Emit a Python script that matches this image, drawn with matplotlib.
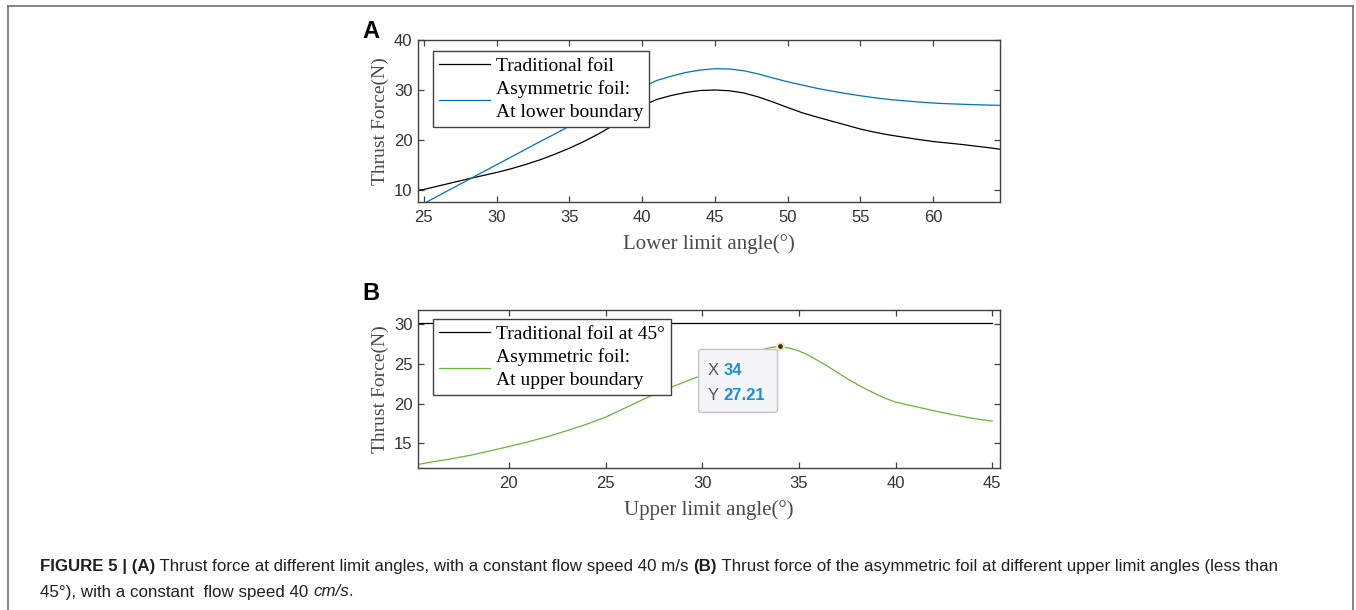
import matplotlib.pyplot as plt
import matplotlib.transforms as mtransforms
from matplotlib.patches import FancyBboxPatch
from matplotlib.lines import Line2D

# panel A: thrust vs lower limit angle
lower_angle = [24.6, 25, 26, 27, 28, 29, 30, 31, 32, 33, 34, 35, 36, 37, 38, 39, 40,
               41, 42, 43, 44, 45, 46, 47, 48, 49, 50, 51, 52, 53, 54, 55, 56,
               57, 58, 59, 60, 61, 62, 63, 64, 64.6]
thrust_traditional = [9.95, 10.1, 10.8, 11.5, 12.2, 12.85, 13.5, 14.25, 15.1, 16.05,
                      17.15, 18.35, 19.7, 21.2, 22.9, 24.9, 26.8, 28.1, 28.9, 29.5,
                      29.9, 30.0, 29.85, 29.4, 28.6, 27.6, 26.5, 25.45, 24.6, 23.8,
                      23.0, 22.2, 21.55, 21.0, 20.55, 20.1, 19.7, 19.4, 19.1, 18.75,
                      18.4, 18.15]
thrust_asym_lower = [None, 7.3, 8.85, 10.4, 11.95, 13.5, 15.05, 16.6, 18.15, 19.7,
                     21.2, 22.75, 24.3, 25.85, 27.35, 28.9, 30.5, 31.9, 32.75, 33.5,
                     34.0, 34.25, 34.2, 33.85, 33.2, 32.4, 31.65, 31.0, 30.35, 29.8,
                     29.3, 28.85, 28.45, 28.1, 27.85, 27.6, 27.4, 27.25, 27.15, 27.05,
                     26.97, 26.93]

# panel B: thrust vs upper limit angle
upper_angle = [15.3, 16, 17, 18, 19, 20, 21, 22, 23, 24, 25, 26, 27, 28, 29, 30,
               31, 32, 33, 33.5, 34, 34.5, 35, 35.5, 36, 36.5, 37, 37.5, 38, 38.5,
               39, 39.5, 40, 41, 42, 43, 44, 45]
thrust_asym_upper = [12.35, 12.65, 13.05, 13.5, 14.05, 14.6, 15.2, 15.85, 16.6, 17.4,
                     18.3, 19.45, 20.6, 21.7, 22.65, 23.6, 24.75, 25.85, 26.75, 27.05,
                     27.21, 27.0, 26.65, 26.1, 25.4, 24.7, 23.9, 23.15, 22.45, 21.8,
                     21.2, 20.65, 20.2, 19.65, 19.1, 18.6, 18.15, 17.8]
upper_range = [15.3, 45]
traditional_at_45 = 30.1
tip_x, tip_y = 34, 27.21

black = '#000000'
blue = '#0072BD'
green = '#6ab43c'
axis_col = '#404040'
label_col = '#4a4a4a'

fig = plt.figure(figsize=(13.56, 6.10), dpi=100)
W, H = 1356, 610
ident = mtransforms.IdentityTransform()

axA = fig.add_axes([418 / W, 1 - 202 / H, 582 / W, 162 / H])
axB = fig.add_axes([418 / W, 1 - 468 / H, 582 / W, 158 / H])


def style_axes(ax):
    for s in ax.spines.values():
        s.set_color(axis_col)
        s.set_linewidth(1.0)
    ax.tick_params(direction='in', top=True, right=True, length=4, width=0.9,
                   color=axis_col, labelcolor='#333333', labelsize=12)
    ax.tick_params(axis='x', pad=5.5)
    ax.tick_params(axis='y', pad=4)
    for lab in ax.get_xticklabels() + ax.get_yticklabels():
        lab.set_family('Liberation Sans')


def make_legend(ax, top_px):
    leg = ax.legend(loc='upper left', bbox_to_anchor=(433 / W, 1 - top_px / H),
                    bbox_transform=fig.transFigure, borderaxespad=0,
                    prop={'family': 'Liberation Serif', 'size': 14},
                    handlelength=2.6, handletextpad=0.3, labelspacing=0.26,
                    borderpad=0.32, fancybox=False, framealpha=1, edgecolor=axis_col)
    leg.get_frame().set_linewidth(1.0)
    for t in leg.get_texts():
        t.set_linespacing(1.45)
    return leg


# ---- A ----
axA.plot(lower_angle, thrust_traditional, color=black, lw=0.9, label='Traditional foil')
axA.plot(lower_angle[1:], thrust_asym_lower[1:], color=blue, lw=0.9,
         label='Asymmetric foil:\nAt lower boundary')
axA.set_xlim(24.6, 64.6)
axA.set_ylim(7.6, 40)
axA.set_xticks([25, 30, 35, 40, 45, 50, 55, 60])
axA.set_yticks([10, 20, 30, 40])
style_axes(axA)
axA.set_xlabel('Lower limit angle(°)', family='Liberation Serif', fontsize=15,
               color=label_col, va='center')
axA.xaxis.set_label_coords(0.5, -0.26)
axA.set_ylabel('Thrust Force(N)', family='Liberation Serif', fontsize=14,
               color=label_col, va='center')
axA.yaxis.set_label_coords(-0.065, 0.5)
make_legend(axA, 51)

# ---- B ----
axB.plot(upper_range, [traditional_at_45] * 2, color=black, lw=0.9,
         label='Traditional foil at 45°')
axB.plot(upper_angle, thrust_asym_upper, color=green, lw=0.9,
         label='Asymmetric foil:\nAt upper boundary')
axB.set_xlim(15.3, 45.4)
axB.set_ylim(11.9, 31.8)
axB.set_xticks([20, 25, 30, 35, 40, 45])
axB.set_yticks([15, 20, 25, 30])
style_axes(axB)
axB.set_xlabel('Upper limit angle(°)', family='Liberation Serif', fontsize=15,
               color=label_col, va='center')
axB.xaxis.set_label_coords(0.5, -0.266)
axB.set_ylabel('Thrust Force(N)', family='Liberation Serif', fontsize=14,
               color=label_col, va='center')
axB.yaxis.set_label_coords(-0.065, 0.5)
make_legend(axB, 319)

# data tip
axB.plot([tip_x], [tip_y], 'o', ms=5, color='#333333', mec='#f3e7a6', mew=1.5, zorder=6)
px, py = axB.transData.transform((tip_x, tip_y))
box = FancyBboxPatch((px - 81, py - 66), 79, 63, boxstyle='round,pad=0,rounding_size=3',
                     fc='#f5f5f9', ec='#c4c4c4', lw=1, transform=ident, zorder=5)
fig.add_artist(box)
for dy, key, val in [(-24, 'X', '34'), (-49, 'Y', '27.21')]:
    fig.text(px - 72, py + dy, key, transform=ident, family='Liberation Sans',
             fontsize=12, color='#555555', va='center', zorder=7)
    fig.text(px - 56, py + dy, val, transform=ident, family='Liberation Sans',
             fontsize=12, color='#1a8fd8', weight='bold', va='center', zorder=7)

# panel letters
fig.text(371 / W, 1 - 32 / H, 'A', family='Liberation Sans', weight='bold',
         fontsize=17, ha='center', va='center')
fig.text(371 / W, 1 - 293 / H, 'B', family='Liberation Sans', weight='bold',
         fontsize=17, ha='center', va='center')

# outer frame
for xs, ys in [([8, 1353], [H - 6, H - 6]), ([8, 8], [H - 6, 0]), ([1353, 1353], [H - 6, 0])]:
    fig.add_artist(Line2D(xs, ys, color='#707070', lw=1.2, transform=ident))

# caption
cap_family = ['Liberation Sans Narrow', 'Liberation Sans']
line1 = [('FIGURE 5 | (A)', 'bold', 'normal'),
         (' Thrust force at different limit angles, with a constant flow speed 40 m/s ',
          'normal', 'normal'),
         ('(B)', 'bold', 'normal'),
         (' Thrust force of the asymmetric foil at different upper limit angles (less than',
          'normal', 'normal')]
line2 = [('45°), with a constant  flow speed 40 ', 'normal', 'normal'),
         ('cm/s', 'normal', 'italic'),
         ('.', 'normal', 'normal')]

fig.canvas.draw()
renderer = fig.canvas.get_renderer()
for pieces, yy in [(line1, H - 567), (line2, H - 592)]:
    x = 40
    for txt, wt, st in pieces:
        t = fig.text(x, yy, txt, transform=ident, family=cap_family, weight=wt,
                     style=st, fontsize=12.2, va='center', color='#231f20')
        x = t.get_window_extent(renderer).x1

fig.savefig('out.png', dpi=100)
